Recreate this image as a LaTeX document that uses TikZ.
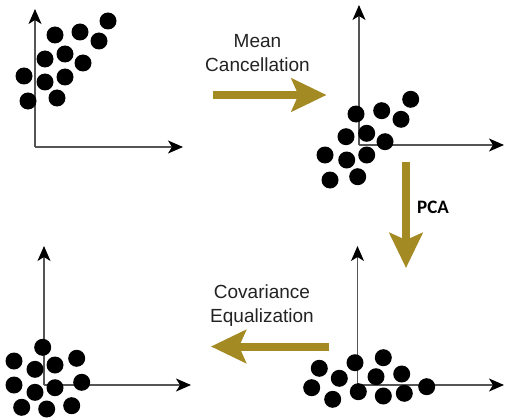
\documentclass[tikz,border=0pt]{standalone}
\usepackage{fontspec}
\setmainfont{Liberation Sans}
\newfontfamily\pcafont{Carlito}
\usetikzlibrary{arrows.meta}
\definecolor{gold}{RGB}{164,138,34}
\definecolor{axisgray}{RGB}{85,85,85}
\definecolor{txt}{RGB}{35,35,35}
\tikzset{
  axisline/.style={draw=axisgray, line width=1.2pt, -{Stealth[length=15pt,width=13pt,inset=4pt,black]}},
  dot/.style={circle, fill=black, inner sep=0pt, minimum size=17pt},
  bigarrow/.style={draw=gold, line width=8pt, -{Stealth[length=35pt,width=33pt,inset=7pt,gold]}},
  lbl/.style={text=txt, font=\fontsize{19}{24}\selectfont, inner sep=0pt, align=center},
  pcalbl/.style={text=black, font=\pcafont\bfseries\fontsize{19}{22}\selectfont, inner sep=0pt}
}
\begin{document}
\begin{tikzpicture}[x=1pt,y=-1pt]
\useasboundingbox[fill=white] (0,0) rectangle (505,417);
% ---------- panel 1 (top-left) ----------
\coordinate (o1) at (35,147);
\coordinate (y1) at (35,9);
\coordinate (x1) at (183,147);
\draw[axisline] (o1) -- (y1);
\draw[axisline] (o1) -- (x1);
\foreach \i/\p in {a/{108,21}, b/{55,35}, c/{80,32}, d/{99,41}, e/{45,59}, f/{65,54},
                   g/{83,63}, h/{24,76}, k/{45,82}, l/{65,77}, m/{28,101}, n/{57,98}}
  \node[dot] (p1\i) at (\p) {};
% ---------- panel 2 (top-right) ----------
\coordinate (o2) at (359,145);
\coordinate (y2) at (359,5);
\coordinate (x2) at (504,145);
\draw[axisline] (o2) -- (y2);
\draw[axisline] (o2) -- (x2);
\foreach \i/\p in {a/{410.7,99.3}, b/{356,114}, c/{381.7,110.7}, d/{401,119.3}, e/{346,136.7}, f/{366.7,133.3},
                   g/{385,141.7}, h/{325,155}, k/{346.7,160}, l/{366.7,155}, m/{330,180}, n/{357.7,176.7}}
  \node[dot] (p2\i) at (\p) {};
% ---------- panel 3 (bottom-left) ----------
\coordinate (o3) at (44,385);
\coordinate (y3) at (44,246);
\coordinate (x3) at (191,385);
\draw[axisline] (o3) -- (y3);
\draw[axisline] (o3) -- (x3);
\foreach \i/\p in {a/{42.7,347.3}, b/{14,361}, c/{35,369.3}, d/{55,365}, e/{76.7,358.3}, f/{14,385},
                   g/{35,392.3}, h/{55,387.7}, k/{81.7,382.3}, l/{21.7,407.3}, m/{46.7,409}, n/{71.7,405.7}}
  \node[dot] (p3\i) at (\p) {};
% ---------- panel 4 (bottom-right) ----------
\coordinate (o4) at (357.5,385);
\coordinate (y4) at (357.5,246);
\coordinate (x4) at (504,385);
\draw[axisline] (o4) -- (y4);
\draw[axisline] (o4) -- (x4);
\foreach \i/\p in {a/{355,362.7}, b/{383.3,357.7}, c/{319.3,368.3}, d/{339.3,378.3}, e/{376,376.7}, f/{401.7,374},
                   g/{311.7,387.7}, h/{358.3,391.7}, k/{332.7,399.3}, l/{383.3,396}, m/{404.3,393.3}, n/{426.7,386.7}}
  \node[dot] (p4\i) at (\p) {};
% ---------- transformation arrows ----------
\coordinate (m1) at (212.5,95);
\coordinate (m2) at (326.5,95);
\draw[bigarrow] (m1) -- (m2);
\node[lbl] (meanlbl) at (257.5,53) {Mean\\Cancellation};

\coordinate (c1) at (406,162);
\coordinate (c2) at (406,268);
\draw[bigarrow] (c1) -- (c2);
\node[pcalbl] (pcalbl) at (433,207) {PCA};

\coordinate (e1) at (329,346.5);
\coordinate (e2) at (211,346.5);
\draw[bigarrow] (e1) -- (e2);
\node[lbl] (covlbl) at (262,305.5) {Covariance\\Equalization};
\end{tikzpicture}
\end{document}
